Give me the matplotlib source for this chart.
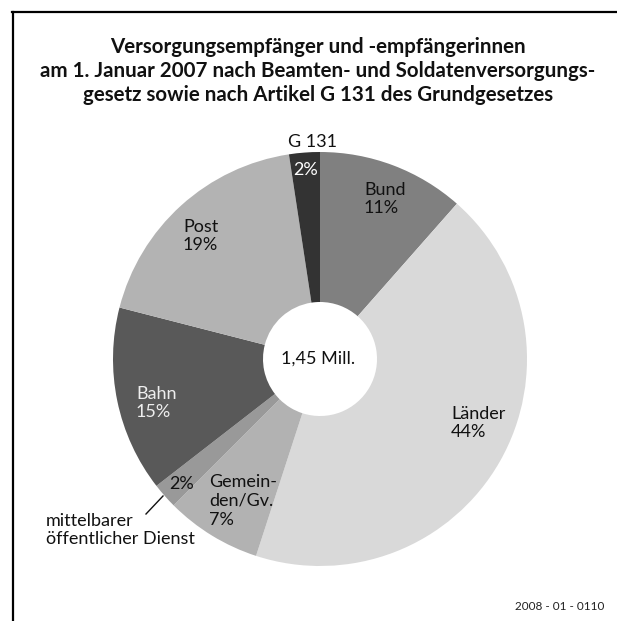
import matplotlib
matplotlib.use("Agg")
import matplotlib.pyplot as plt
from matplotlib.lines import Line2D

W, H = 617, 621
DPI = 100

# ---- data (shares measured from the wedge angles; labels as printed) ----
categories = ["Bund", "Länder", "Gemeinden/Gv.", "mittelbarer öffentlicher Dienst",
              "Bahn", "Post", "G 131"]
shares = [11.5, 43.5, 7.5, 2.0, 14.5, 18.6, 2.4]
pct_labels = ["11%", "44%", "7%", "2%", "15%", "19%", "2%"]
colors = ["#808080", "#d9d9d9", "#b2b2b2", "#999999", "#595959", "#b3b3b3", "#333333"]
total_label = "1,45 Mill."
title_lines = ["Versorgungsempfänger und -empfängerinnen",
               "am 1. Januar 2007 nach Beamten- und Soldatenversorgungs-",
               "gesetz sowie nach Artikel G 131 des Grundgesetzes"]
source_label = "2008 - 01 - 0110"

plt.rcParams['font.family'] = ['Lato', 'DejaVu Sans']

fig = plt.figure(figsize=(W / DPI, H / DPI), dpi=DPI)
fig.patch.set_facecolor("white")

def fx(px):
    return px / W

def fy(py):
    return 1 - py / H

# pie axes: centre (320, 359) px, outer radius 207 px
cx, cy, R = 320, 359, 207
ax = fig.add_axes([fx(cx - R), fy(cy + R), 2 * R / W, 2 * R / H])
ax.pie(shares, colors=colors, startangle=90, counterclock=False,
       radius=1.0, wedgeprops=dict(width=1 - 57 / 207, linewidth=0))
ax.set_xlim(-1, 1)
ax.set_ylim(-1, 1)
ax.set_aspect("equal")
ax.axis("off")

# frame (top and left lines)
fig.add_artist(Line2D([fx(12), fx(617)], [fy(12), fy(12)], color="black", lw=1.6,
                      transform=fig.transFigure))
fig.add_artist(Line2D([fx(13), fx(13)], [fy(12), fy(621)], color="black", lw=1.6,
                      transform=fig.transFigure))

# title
for i, line in enumerate(title_lines):
    fig.text(fx(318), fy(47 + 24 * i), line, ha="center", va="center",
             fontsize=14.8, fontweight="bold", color="#111111")

fs = 13
def lab(px, py, s, color="#111111", ha="left"):
    fig.text(fx(px), fy(py), s, ha=ha, va="center", fontsize=fs, color=color,
             linespacing=1.2)

lab(364, 199, categories[0] + "\n" + pct_labels[0])
lab(451, 423, categories[1] + "\n" + pct_labels[1])
lab(209, 501, "Gemein-\nden/Gv.\n" + pct_labels[2])
lab(169, 484, pct_labels[3])
lab(46, 530, "mittelbarer\nöffentlicher Dienst")
lab(136, 403, categories[4] + "\n" + pct_labels[4], color="#eeeeee")
lab(183, 236, categories[5] + "\n" + pct_labels[5])
lab(313, 142, categories[6], ha="center")
lab(306, 170, pct_labels[6], color="white", ha="center")
lab(cx - 2, cy, total_label, ha="center")

# leader line for mittelbarer öffentlicher Dienst
fig.add_artist(Line2D([fx(146), fx(163)], [fy(514), fy(496)], color="#111111", lw=1.0,
                      transform=fig.transFigure))

fig.text(fx(604), fy(607), source_label, ha="right", va="center", fontsize=8.5,
         color="#222222")

fig.savefig("out.png", dpi=DPI)
